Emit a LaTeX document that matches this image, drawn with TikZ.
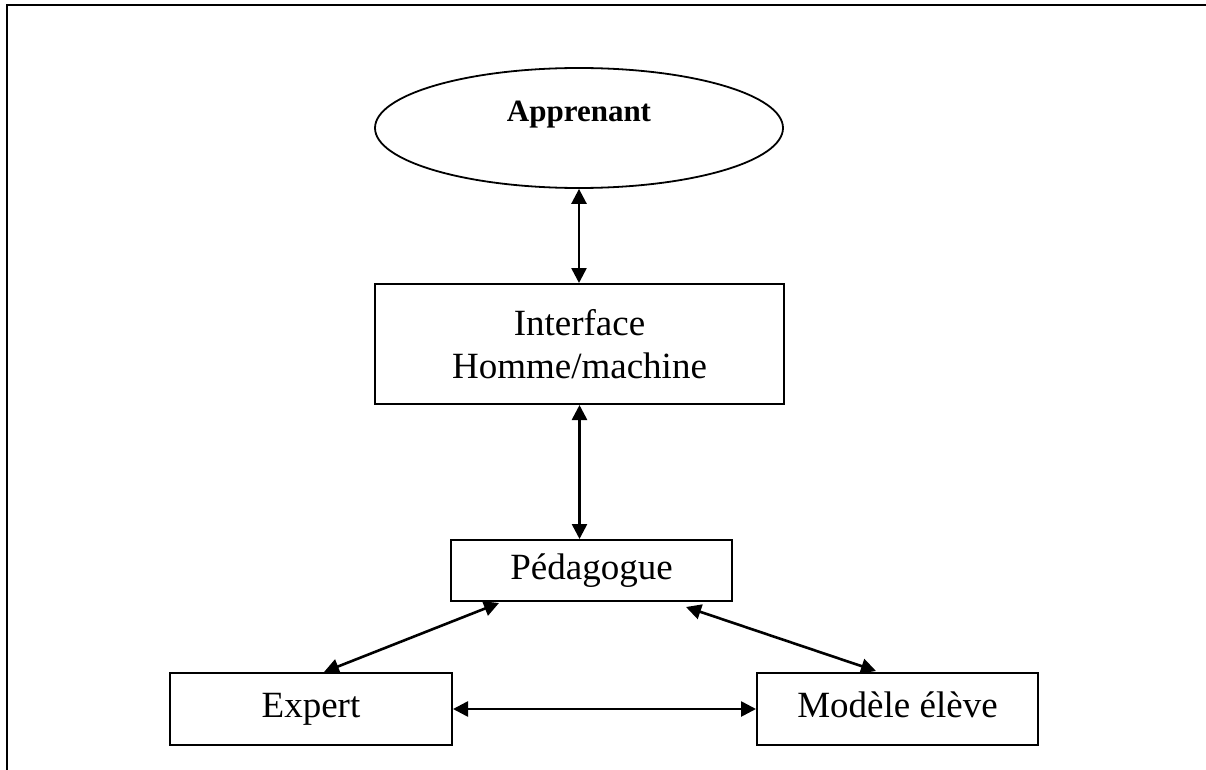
\documentclass[tikz,border=0pt]{standalone}
\usepackage{fontspec}
\setmainfont{Liberation Serif}
\usetikzlibrary{arrows.meta,shapes.geometric,calc}

\tikzset{
  block/.style={draw, line width=2pt, rectangle, inner sep=0pt, align=center,
    font=\fontsize{37}{43}\selectfont},
  oneline/.style={text height=25pt, text depth=8pt},
  oval/.style={draw, line width=1.8pt, ellipse, inner sep=0pt,
    font=\fontsize{31}{36}\selectfont\bfseries, text height=21pt, text depth=33pt},
  link/.style={line width=2.6pt, {Triangle[length=15pt,width=15pt]}-{Triangle[length=15pt,width=15pt]}},
  frameline/.style={line width=2.4pt}
}

\begin{document}
\begin{tikzpicture}[x=1pt, y=-1pt]
  \useasboundingbox (0,0) rectangle (1206,770);

  % open frame: top and left edges only
  \coordinate (ftr) at (1206,5);
  \coordinate (ftl) at (7,5);
  \coordinate (fbl) at (7,770);
  \draw[frameline] (ftr) -- (ftl) -- (fbl);

  % components
  \node[oval, minimum width=408pt, minimum height=120pt] (app) at (579,128) {Apprenant};
  \node[block, minimum width=409pt, minimum height=120pt] (ihm) at (579.5,344)
    {Interface\\Homme/machine};
  \node[block, oneline, minimum width=281pt, minimum height=61pt] (ped) at (591.5,570.5) {Pédagogue};
  \node[block, oneline, minimum width=282pt, minimum height=72pt] (exp) at (311,709) {Expert};
  \node[block, oneline, minimum width=281pt, minimum height=72pt] (mod) at (897.5,709) {Modèle élève};

  % attachment points of the slanted links
  \coordinate (pl) at ($(ped.south west)+(49,1)$);
  \coordinate (pr) at ($(ped.south east)+(-47,5)$);
  \coordinate (el) at ($(exp.north west)+(155,0)$);
  \coordinate (mr) at ($(mod.north west)+(120,-1)$);

  % links
  \draw[link] (app.south) -- (app.south |- ihm.north);
  \draw[link] (ihm.south) -- (ihm.south |- ped.north);
  \draw[link] (pl) -- (el);
  \draw[link] (pr) -- (mr);
  \draw[link] (exp.east) -- (mod.west);
\end{tikzpicture}
\end{document}
